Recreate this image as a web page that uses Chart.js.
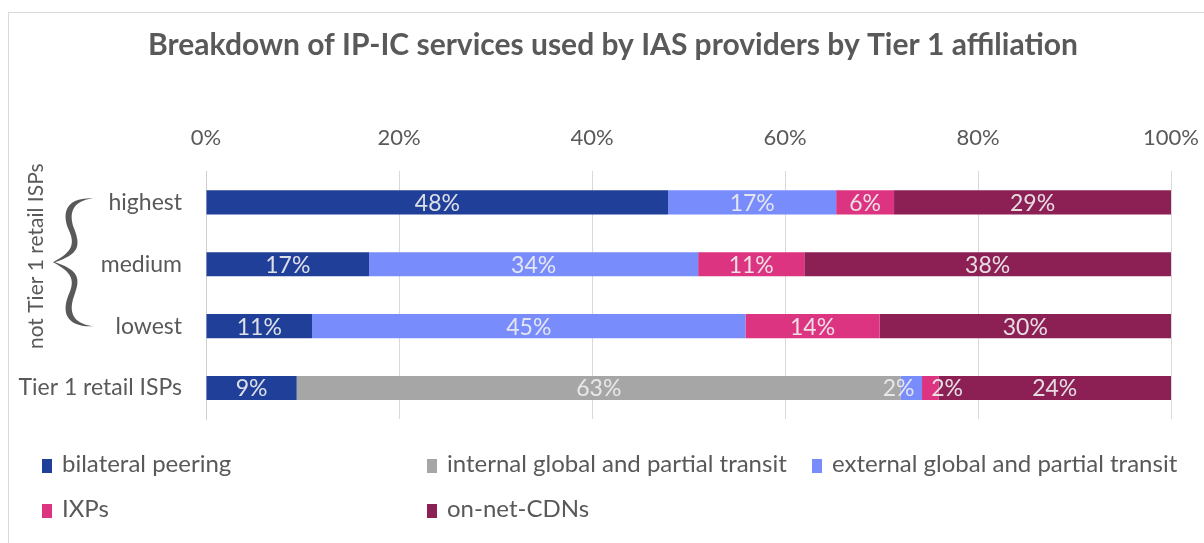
<!DOCTYPE html>
<html lang="en">
<head>
<meta charset="utf-8"/>
<script src="https://cdn.jsdelivr.net/npm/chart.js@4.4.1/dist/chart.umd.min.js"></script>
<style>
  html, body { margin: 0; padding: 0; background: #ffffff; overflow: hidden; width: 1204px; height: 543px; }
  #frame { position: absolute; left: 8px; top: 12px; width: 1196px; height: 531px;
           border-left: 1px solid #d9d9d9; border-top: 1px solid #d9d9d9; box-sizing: border-box; }
  #wrap { position: absolute; left: 0; top: 0; width: 1204px; height: 543px; }
  #legend { position: absolute; left: 0; top: 0; width: 1204px; height: 543px; pointer-events: none;
            font-family: Lato, "Open Sans", sans-serif; font-size: 24px; color: #595959; }
  .item { position: absolute; white-space: nowrap; line-height: 26px; }
  .sw { display: inline-block; width: 10px; height: 14px; margin-right: 10px; vertical-align: -1px; }
</style>
</head>
<body>
<div id="frame"></div>
<div id="wrap"><canvas id="chart"></canvas></div>
<div id="legend"></div>
<script>
    // categories (top to bottom)
    const categories = ["highest", "medium", "lowest", "Tier 1 retail ISPs"];

    // shares in percent
    const bilateralPeering = [47.9, 16.9, 11.0, 9.4];
    const internalTransit  = [0, 0, 0, 62.6];
    const externalTransit  = [17.4, 34.1, 44.9, 2.2];
    const ixps             = [6.0, 11.0, 13.9, 1.7];
    const onNetCdns        = [28.7, 38.0, 30.2, 24.1];

    // what the labels inside the bars say
    const labelsBilateral = ["48%", "17%", "11%", "9%"];
    const labelsInternal  = ["", "", "", "63%"];
    const labelsExternal  = ["17%", "34%", "45%", "2%"];
    const labelsIxps      = ["6%", "11%", "14%", "2%"];
    const labelsOnNet     = ["29%", "38%", "30%", "24%"];

    const xTicks = [0, 20, 40, 60, 80, 100];

    const FONT = "Lato";
    const GREY_TEXT = "#595959";

    const series = [
        { label: "bilateral peering", data: bilateralPeering, color: "#203f99", text: labelsBilateral },
        { label: "internal global and partial transit", data: internalTransit, color: "#a6a6a6", text: labelsInternal },
        { label: "external global and partial transit", data: externalTransit, color: "#788cfc", text: labelsExternal },
        { label: "IXPs", data: ixps, color: "#dc3480", text: labelsIxps },
        { label: "on-net-CDNs", data: onNetCdns, color: "#8c2055", text: labelsOnNet }
    ];

    // labels centred in each bar segment; two narrow neighbours are pushed apart
    const barLabels = {
        id: "barLabels",
        afterDatasetsDraw(chart) {
            const ctx = chart.ctx;
            ctx.save();
            ctx.font = "23px " + FONT;
            ctx.textAlign = "center";
            ctx.textBaseline = "middle";
            const n = chart.data.datasets.length;
            const isNarrow = (i, j) => {
                if (i < 0 || i >= n) return false;
                const ds = chart.data.datasets[i];
                const txt = ds.segLabels[j];
                if (!txt) return false;
                const bar = chart.getDatasetMeta(i).data[j];
                return Math.abs(bar.x - bar.base) < ctx.measureText(txt).width;
            };
            chart.data.datasets.forEach((ds, i) => {
                const meta = chart.getDatasetMeta(i);
                meta.data.forEach((bar, j) => {
                    const txt = ds.segLabels[j];
                    if (!txt) return;
                    let x = (bar.base + bar.x) / 2;
                    if (isNarrow(i, j)) {
                        const half = ctx.measureText(txt).width / 2;
                        if (isNarrow(i + 1, j)) x -= half - 3;
                        else if (isNarrow(i - 1, j)) x += half + 1;
                    }
                    ctx.fillStyle = ds.labelColor;
                    ctx.fillText(txt, x, bar.y + 1);
                });
            });
            ctx.restore();
        }
    };

    // the title in the original sits a little right of the canvas centre
    const titleShift = {
        id: "titleShift",
        afterLayout(chart) {
            if (chart.titleBlock) chart.titleBlock.left += 55;
        }
    };

    // group label and curly brace for the three non-Tier-1 rows
    const groupBrace = {
        id: "groupBrace",
        afterDraw(chart) {
            const ctx = chart.ctx;
            const y = chart.scales.y;
            const yTop = y.getPixelForValue(0) - 4;
            const yBot = y.getPixelForValue(2) + 0;
            const yMid = (yTop + yBot) / 2;
            const xTip = 53, xMid = 72, xEnd = 93;
            ctx.save();
            ctx.fillStyle = GREY_TEXT;
            ctx.beginPath();
            ctx.moveTo(xEnd, yTop);
            ctx.bezierCurveTo(xMid - 6, yTop - 1, xMid - 10, yTop + 14, xMid - 4, yTop + 30);
            ctx.bezierCurveTo(xMid + 4, yTop + 46, xMid, yMid - 10, xTip, yMid);
            ctx.bezierCurveTo(xMid, yMid + 10, xMid + 4, yBot - 46, xMid - 4, yBot - 30);
            ctx.bezierCurveTo(xMid - 10, yBot - 14, xMid - 6, yBot + 1, xEnd, yBot);
            ctx.bezierCurveTo(xMid - 1, yBot - 3, xMid - 3, yBot - 16, xMid + 2, yBot - 30);
            ctx.bezierCurveTo(xMid + 9, yBot - 48, xMid + 7, yMid + 8, xTip + 2, yMid);
            ctx.bezierCurveTo(xMid + 7, yMid - 8, xMid + 9, yTop + 48, xMid + 2, yTop + 30);
            ctx.bezierCurveTo(xMid - 3, yTop + 16, xMid - 1, yTop + 3, xEnd, yTop);
            ctx.closePath();
            ctx.fill();

            ctx.translate(36, yMid - 6);
            ctx.rotate(-Math.PI / 2);
            ctx.font = "21px " + FONT;
            ctx.textAlign = "center";
            ctx.textBaseline = "middle";
            ctx.fillText("not Tier 1 retail ISPs", 0, 0);
            ctx.restore();
        }
    };

    const chartData = {
        labels: categories,
        datasets: series.map(s => ({
            label: s.label,
            data: s.data,
            backgroundColor: s.color,
            segLabels: s.text,
            labelColor: "rgba(238,238,238,0.92)",
            categoryPercentage: 1,
            barPercentage: 0.39
        }))
    };

    const config = {
        type: "bar",
        data: chartData,
        options: {
            indexAxis: "y",
            responsive: true,
            maintainAspectRatio: false,
            animation: false,
            layout: { padding: { left: 0, right: 33, top: 0, bottom: 124 } },
            plugins: {
                legend: { display: false },
                tooltip: { enabled: false },
                title: {
                    display: true,
                    text: "Breakdown of IP-IC services used by IAS providers by Tier 1 affiliation",
                    color: GREY_TEXT,
                    font: { family: FONT, size: 30, weight: "bold" },
                    padding: { top: 27, bottom: 60 }
                }
            },
            scales: {
                x: {
                    position: "top",
                    stacked: true,
                    min: 0,
                    max: 100,
                    afterBuildTicks(scale) { scale.ticks = xTicks.map(v => ({ value: v })); },
                    ticks: {
                        callback: v => v + "%",
                        color: GREY_TEXT,
                        font: { family: FONT, size: 22 },
                        padding: 2,
                        maxRotation: 0
                    },
                    grid: { color: "#d9d9d9", drawTicks: true, tickLength: 18, tickColor: "rgba(0,0,0,0)" },
                    border: { display: false }
                },
                y: {
                    stacked: true,
                    afterFit(scale) { scale.width = 206; },
                    ticks: {
                        color: GREY_TEXT,
                        font: { family: FONT, size: 23 },
                        padding: 24
                    },
                    grid: { display: false, drawTicks: false },
                    border: { display: true, color: "#cfcfcf" }
                }
            }
        },
        plugins: [titleShift, barLabels, groupBrace]
    };

    new Chart(document.getElementById("chart"), config);

    // legend laid out in columns like the original
    const legendPos = [[42, 450], [427, 450], [812, 450], [42, 495], [427, 495]];
    const legend = document.getElementById("legend");
    series.forEach((s, i) => {
        const el = document.createElement("div");
        el.className = "item";
        el.style.left = legendPos[i][0] + "px";
        el.style.top = legendPos[i][1] + "px";
        el.innerHTML = '<span class="sw" style="background:' + s.color + '"></span>' + s.label;
        legend.appendChild(el);
    });
</script>
</body>
</html>
